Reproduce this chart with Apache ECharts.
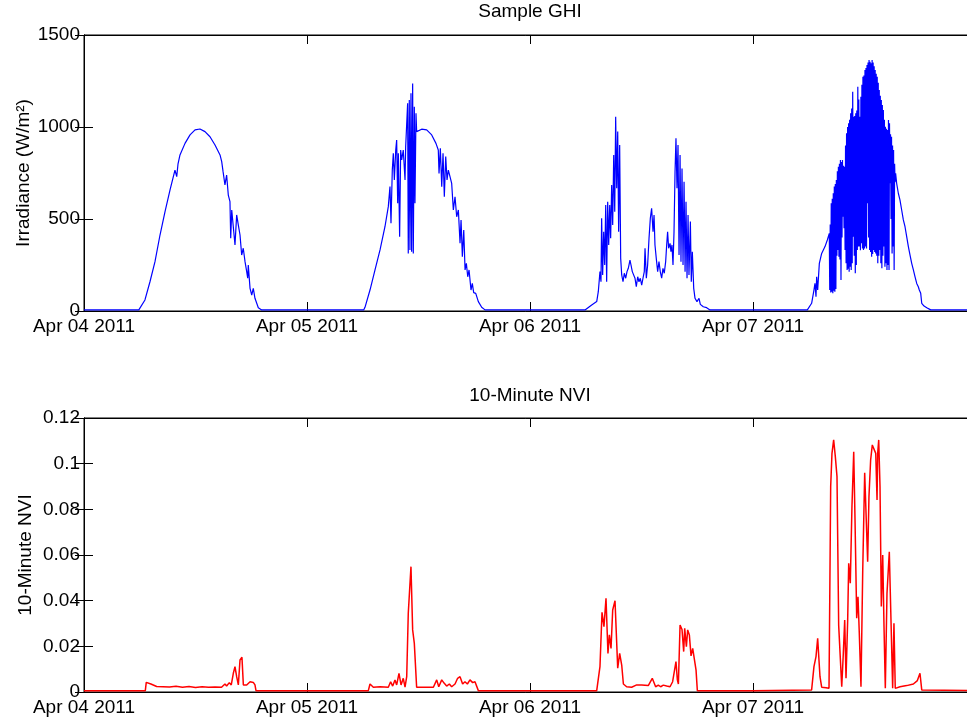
<!DOCTYPE html>
<html>
<head>
<meta charset="utf-8">
<title>Sample GHI / 10-Minute NVI</title>
<script src="https://cdn.jsdelivr.net/npm/echarts/dist/echarts.min.js"></script>
<style>
    html, body { margin: 0; padding: 0; background: #fff; }
    #chart { width: 967px; height: 721px; }
</style>
</head>
<body>
<div id="chart"></div>
<script>
// x axis is hours since Apr 04 2011 00:00, one tick per day
var xTickLabels = ['Apr 04 2011', 'Apr 05 2011', 'Apr 06 2011', 'Apr 07 2011'];

// GHI (W/m2), hour of day / value, one pair of arrays per day
var ghiDay1Hours = [0, 5.9, 6.03, 6.56, 7.10, 7.64, 8.18, 8.72, 9.26, 9.79, 9.98, 10.12, 10.33, 10.87, 11.41, 11.95, 12.48, 13.02, 13.56, 14.10, 14.64, 14.82, 14.96, 15.17, 15.35, 15.53, 15.71, 15.79, 15.90, 16.07, 16.25, 16.43, 16.61, 16.79, 16.97, 17.14, 17.33, 17.51, 17.62, 17.68, 17.87, 18.05, 18.22, 18.40, 18.76, 19.12];
var ghiDay1Values = [6, 6, 15, 60, 159, 268, 413, 540, 658, 766, 730, 800, 848, 911, 957, 984, 989, 975, 947, 902, 848, 812, 760, 685, 739, 630, 594, 395, 549, 540, 359, 522, 467, 413, 304, 341, 268, 214, 178, 250, 123, 87, 123, 69, 18, 6];

var ghiDay2Hours = [0, 6.1, 6.24, 6.78, 7.32, 7.86, 8.39, 8.75, 8.93, 9.04, 9.18, 9.29, 9.40, 9.55, 9.65, 9.76, 9.83, 9.97, 10.08, 10.19, 10.36, 10.55, 10.62, 10.73, 10.83, 10.90, 11.01, 11.08, 11.19, 11.26, 11.37, 11.44, 11.55, 11.62, 11.73, 11.80, 12.34, 12.88, 13.42, 13.88, 14.13, 14.21, 14.35, 14.50, 14.64, 14.78, 14.93, 15.07, 15.21, 15.39, 15.57, 15.75, 15.93, 16.11, 16.29, 16.47, 16.58, 16.72, 16.87, 17.01, 17.15, 17.30, 17.44, 17.65, 17.79, 17.94, 18.16, 18.44, 18.80, 19.16];
var ghiDay2Values = [6, 6, 20, 114, 223, 332, 458, 567, 676, 477, 766, 857, 712, 875, 929, 585, 857, 404, 875, 821, 875, 712, 893, 902, 1129, 313, 1147, 332, 1183, 322, 1237, 313, 1110, 585, 1075, 975, 988, 984, 957, 911, 875, 748, 884, 676, 857, 621, 839, 712, 766, 730, 694, 549, 621, 512, 549, 368, 495, 295, 440, 223, 259, 186, 223, 114, 150, 100, 96, 51, 20, 6];

var ghiDay3Hours = [0, 5.92, 6.64, 7.18, 7.35, 7.53, 7.64, 7.71, 7.82, 7.93, 8.04, 8.15, 8.25, 8.36, 8.47, 8.58, 8.68, 8.79, 8.90, 9.01, 9.12, 9.22, 9.33, 9.44, 9.54, 9.65, 9.76, 9.87, 10.01, 10.15, 10.30, 10.44, 10.58, 10.76, 10.87, 11.01, 11.16, 11.30, 11.44, 11.59, 11.73, 11.87, 12.02, 12.16, 12.30, 12.38, 12.52, 12.66, 12.81, 12.95, 13.09, 13.24, 13.35, 13.45, 13.59, 13.74, 13.88, 14.02, 14.17, 14.31, 14.45, 14.60, 14.71, 14.81, 14.92, 15.07, 15.17, 15.28, 15.39, 15.50, 15.61, 15.71, 15.82, 15.93, 16.04, 16.15, 16.25, 16.36, 16.47, 16.58, 16.69, 16.79, 16.90, 17.01, 17.11, 17.26, 17.36, 17.47, 17.62, 17.76, 17.97, 18.19, 18.33, 18.65, 19.01, 19.37];
var ghiDay3Values = [6, 6, 33, 51, 105, 214, 159, 504, 196, 431, 250, 576, 159, 594, 359, 576, 395, 685, 467, 848, 540, 1056, 667, 975, 431, 902, 286, 196, 159, 205, 178, 214, 232, 277, 250, 214, 223, 178, 132, 186, 159, 178, 141, 178, 214, 341, 178, 250, 395, 504, 558, 431, 522, 359, 286, 214, 268, 214, 178, 232, 205, 268, 359, 431, 341, 368, 322, 359, 250, 431, 757, 939, 667, 902, 304, 848, 268, 775, 250, 703, 214, 594, 178, 522, 196, 486, 159, 322, 123, 69, 51, 69, 36, 23, 18, 6];

var ghiDay4Hours = [0, 5.85, 5.95, 6.31, 6.56, 6.67, 6.78, 6.85, 6.96, 7.14, 7.39, 7.75, 8.00, 8.21,
    8.26, 8.31, 8.37, 8.42, 8.48, 8.53, 8.59, 8.64, 8.70, 8.75, 8.81, 8.86, 8.92, 8.97,
    9.03, 9.08, 9.14, 9.19, 9.25, 9.30, 9.36, 9.41, 9.47, 9.52, 9.58, 9.63, 9.69, 9.74, 9.80, 9.85, 9.91, 9.96,
    10.02, 10.07, 10.13, 10.18, 10.24, 10.29, 10.35, 10.40, 10.46, 10.51, 10.57, 10.62, 10.68, 10.73, 10.79, 10.84, 10.90, 10.95,
    11.01, 11.06, 11.12, 11.17, 11.23, 11.28, 11.34, 11.39, 11.45, 11.50, 11.56, 11.61, 11.67, 11.72, 11.78, 11.83, 11.89, 11.94,
    12.00, 12.05, 12.11, 12.16, 12.22, 12.27, 12.33, 12.38, 12.44, 12.49, 12.55, 12.60, 12.66, 12.71, 12.77, 12.82, 12.88, 12.93, 12.99,
    13.04, 13.10, 13.15, 13.21, 13.26, 13.32, 13.37, 13.43, 13.48, 13.54, 13.59, 13.65, 13.70, 13.76, 13.81, 13.87, 13.92, 13.98,
    14.03, 14.09, 14.14, 14.20, 14.25, 14.31, 14.36, 14.42, 14.47, 14.53, 14.58, 14.64, 14.69, 14.75, 14.80, 14.86, 14.91, 14.97,
    15.02, 15.08, 15.13, 15.19, 15.24, 15.29, 15.35,
    15.46, 15.64, 15.82, 16.00, 16.18, 16.36, 16.54, 16.72, 16.90, 17.08, 17.26, 17.44, 17.62, 17.79, 17.90, 18.05, 18.16, 18.41, 18.70, 19.13, 23.98];
var ghiDay4Values = [6, 6, 10, 42, 114, 150, 78, 186, 114, 259, 313, 350, 386, 422,
    114, 470, 100, 585, 105, 610, 96, 640, 110, 676, 105, 690, 120, 712,
    300, 760, 332, 784, 295, 800, 280, 821, 168, 810, 400, 821, 512, 790, 450, 784, 332, 900,
    260, 966, 223, 1000, 230, 1020, 214, 1040, 240, 1075, 223, 1100, 260, 1192, 404, 1056, 300, 1060,
    205, 1075, 250, 1090, 332, 1219, 350, 1150, 350, 1056, 330, 1165, 368, 1230, 340, 1273, 332, 1280,
    340, 1310, 350, 1320, 340, 1337, 585, 1350, 400, 1364, 332, 1355, 320, 1346, 295, 1364, 310, 1350, 332,
    1330, 320, 1310, 313, 1290, 300, 1273, 259, 1240, 300, 1201, 332, 1170, 260, 1147, 232, 1120, 300,
    1092, 350, 1040, 241, 1002, 260, 990, 223, 984, 250, 1038, 223, 1020, 694, 960, 500, 947, 313,
    900, 350, 875, 223, 800, 700, 748,
    694, 640, 603, 549, 495, 458, 404, 350, 304, 259, 223, 186, 150, 132, 114, 96, 42, 27, 18, 6, 6];

// 10-minute NVI, hour of day / value
var nviDay1Hours = [0, 6.60, 6.70, 7.20, 7.82, 8.50, 9.20, 9.90, 10.60, 11.30, 12.00, 12.70, 13.40, 14.10, 14.80, 15.17, 15.35, 15.64, 15.85, 16.07, 16.25, 16.43, 16.61, 16.79, 17.00, 17.15, 17.51, 17.87, 18.22, 18.40, 18.51];
var nviDay1Values = [0.0006, 0.0006, 0.0042, 0.0035, 0.0024, 0.0023, 0.0022, 0.0025, 0.0021, 0.0024, 0.0020, 0.0023, 0.0021, 0.0022, 0.0021, 0.0035, 0.0026, 0.0041, 0.0031, 0.0082, 0.0111, 0.0067, 0.0031, 0.0140, 0.0152, 0.0031, 0.0031, 0.0045, 0.0042, 0.0031, 0.0006];

var nviDay2Hours = [0, 6.60, 6.78, 7.14, 7.86, 8.75, 9.00, 9.22, 9.47, 9.65, 9.90, 10.12, 10.36, 10.55, 10.73, 10.90, 11.19, 11.37, 11.55, 11.80, 13.60, 13.96, 14.18, 14.50, 14.75, 15.03, 15.32, 15.57, 15.93, 16.21, 16.47, 16.75, 17.00, 17.26, 17.54, 17.83, 18.08, 18.26, 18.44];
var nviDay2Values = [0.0006, 0.0006, 0.0035, 0.0021, 0.0023, 0.0021, 0.0045, 0.0026, 0.0053, 0.0031, 0.0082, 0.0031, 0.0060, 0.0021, 0.0067, 0.0345, 0.0549, 0.0272, 0.0213, 0.0021, 0.0021, 0.0053, 0.0023, 0.0053, 0.0039, 0.0026, 0.0035, 0.0023, 0.0035, 0.0060, 0.0067, 0.0035, 0.0045, 0.0035, 0.0053, 0.0041, 0.0045, 0.0039, 0.0006];

var nviDay3Hours = [0, 7.18, 7.53, 7.75, 7.96, 8.18, 8.39, 8.54, 8.72, 8.90, 9.15, 9.44, 9.65, 9.87, 10.05, 10.40, 10.94, 11.48, 12.02, 12.73, 13.16, 13.52, 13.81, 14.06, 14.35, 14.71, 15.07, 15.35, 15.53, 15.71, 15.86, 15.97, 16.15, 16.36, 16.54, 16.65, 16.83, 16.97, 17.15, 17.33, 17.51, 17.69, 17.87, 18.01];
var nviDay3Values = [0.0006, 0.0006, 0.0111, 0.0349, 0.0286, 0.0410, 0.0169, 0.0250, 0.0191, 0.0359, 0.0400, 0.0104, 0.0169, 0.0118, 0.0035, 0.0023, 0.0021, 0.0031, 0.0031, 0.0028, 0.0060, 0.0023, 0.0030, 0.0023, 0.0030, 0.0026, 0.0023, 0.0045, 0.0045, 0.0133, 0.0053, 0.0035, 0.0293, 0.0274, 0.0177, 0.0279, 0.0198, 0.0272, 0.0250, 0.0158, 0.0191, 0.0194, 0.0096, 0.0006];

var nviDay4Hours = [0, 6.31, 6.56, 6.78, 6.96, 7.21, 7.39, 7.86, 8.18, 8.36, 8.50, 8.68, 8.86, 9.04, 9.22, 9.36, 9.55, 9.72, 9.87, 10.01, 10.19, 10.30, 10.47, 10.65, 10.84, 10.98, 11.16, 11.30, 11.44, 11.62, 11.81, 12.02, 12.19, 12.34, 12.48, 12.66, 12.84, 13.02, 13.21, 13.35, 13.42, 13.53, 13.67, 13.81, 13.96, 14.10, 14.24, 14.42, 14.67, 14.85, 15.03, 15.17, 15.31, 15.82, 16.54, 17.26, 17.69, 17.97, 18.16, 23.98];
var nviDay4Values = [0.0006, 0.0009, 0.0111, 0.0155, 0.0235, 0.0067, 0.0021, 0.0019, 0.0016, 0.0899, 0.1045, 0.1104, 0.1031, 0.0943, 0.0293, 0.0301, 0.0023, 0.0169, 0.0315, 0.0060, 0.0315, 0.0564, 0.0476, 0.0812, 0.1052, 0.0753, 0.0323, 0.0417, 0.0257, 0.0023, 0.0534, 0.0960, 0.0753, 0.0571, 0.0855, 0.1016, 0.1082, 0.1089, 0.1045, 0.0841, 0.1045, 0.1104, 0.0899, 0.0374, 0.0600, 0.0286, 0.0016, 0.0432, 0.0614, 0.0315, 0.0016, 0.0301, 0.0016, 0.0023, 0.0028, 0.0035, 0.0050, 0.0082, 0.0009, 0.0006];

function joinDays(hourLists, valueLists) {
    var out = [];
    hourLists.forEach(function (hours, d) {
        hours.forEach(function (h, i) {
            out.push([d * 24 + h, valueLists[d][i]]);
        });
    });
    return out;
}

var ghiData = joinDays([ghiDay1Hours, ghiDay2Hours, ghiDay3Hours, ghiDay4Hours],
    [ghiDay1Values, ghiDay2Values, ghiDay3Values, ghiDay4Values]);
var nviData = joinDays([nviDay1Hours, nviDay2Hours, nviDay3Hours, nviDay4Hours],
    [nviDay1Values, nviDay2Values, nviDay3Values, nviDay4Values]);

var FONT = 'Liberation Sans, Arial, Helvetica, sans-serif';
var FS = 19;

function xAxisFor(gridIndex, pos) {
    return {
        type: 'value', gridIndex: gridIndex, position: pos,
        min: 0, max: 96, interval: 24,
        axisLine: { show: true, onZero: false, lineStyle: { color: '#000', width: 1 } },
        axisTick: { show: true, inside: true, length: 9, lineStyle: { color: '#000' } },
        splitLine: { show: false },
        axisLabel: {
            show: pos === 'bottom', color: '#000', fontSize: FS, fontFamily: FONT, margin: 6,
            showMaxLabel: false,
            formatter: function (v) {
                return v % 24 === 0 ? (xTickLabels[v / 24] || '') : '';
            }
        }
    };
}

function yAxisFor(gridIndex, pos, max, interval, name, nameGap) {
    return {
        type: 'value', gridIndex: gridIndex, position: pos,
        min: 0, max: max, interval: interval,
        name: pos === 'left' ? name : '',
        nameLocation: 'middle', nameGap: nameGap, nameMoveOverlap: false,
        nameTextStyle: { color: '#000', fontSize: FS, fontFamily: FONT },
        axisLine: { show: true, lineStyle: { color: '#000', width: 1 } },
        axisTick: { show: true, inside: true, length: 9, lineStyle: { color: '#000' } },
        splitLine: { show: false },
        axisLabel: {
            show: pos === 'left', color: '#000', fontSize: FS, fontFamily: FONT, margin: 4,
            formatter: function (v) { return String(+v.toFixed(4)); }
        }
    };
}

var chart = echarts.init(document.getElementById('chart'));
var option = {
    animation: false,
    backgroundColor: '#fff',
    textStyle: { fontFamily: FONT },
    title: [
        { text: 'Sample GHI', left: 530, top: 2, textAlign: 'center', padding: 0,
          textStyle: { color: '#000', fontSize: FS, fontWeight: 'normal', fontFamily: FONT } },
        { text: '10-Minute NVI', left: 530, top: 386, textAlign: 'center', padding: 0,
          textStyle: { color: '#000', fontSize: FS, fontWeight: 'normal', fontFamily: FONT } }
    ],
    grid: [
        { left: 84, right: -9, top: 35, height: 276, show: true, borderColor: '#000', borderWidth: 1,
          containLabel: false, outerBoundsMode: 'none' },
        { left: 84, right: -9, top: 418, height: 274, show: true, borderColor: '#000', borderWidth: 1,
          containLabel: false, outerBoundsMode: 'none' }
    ],
    xAxis: [
        xAxisFor(0, 'bottom'), xAxisFor(0, 'top'),
        xAxisFor(1, 'bottom'), xAxisFor(1, 'top')
    ],
    yAxis: [
        yAxisFor(0, 'left', 1500, 500, 'Irradiance (W/m²)', 51),
        yAxisFor(0, 'right', 1500, 500, '', 0),
        yAxisFor(1, 'left', 0.12, 0.02, '10-Minute NVI', 49),
        yAxisFor(1, 'right', 0.12, 0.02, '', 0)
    ],
    series: [
        {
            name: 'GHI', type: 'line', xAxisIndex: 0, yAxisIndex: 0,
            data: ghiData, showSymbol: false, smooth: false,
            lineStyle: { color: '#0000ff', width: 1.2 }
        },
        {
            name: 'NVI', type: 'line', xAxisIndex: 2, yAxisIndex: 2,
            data: nviData, showSymbol: false, smooth: false,
            lineStyle: { color: '#ff0000', width: 1.5 }
        }
    ]
};
chart.setOption(option);
</script>
</body>
</html>
